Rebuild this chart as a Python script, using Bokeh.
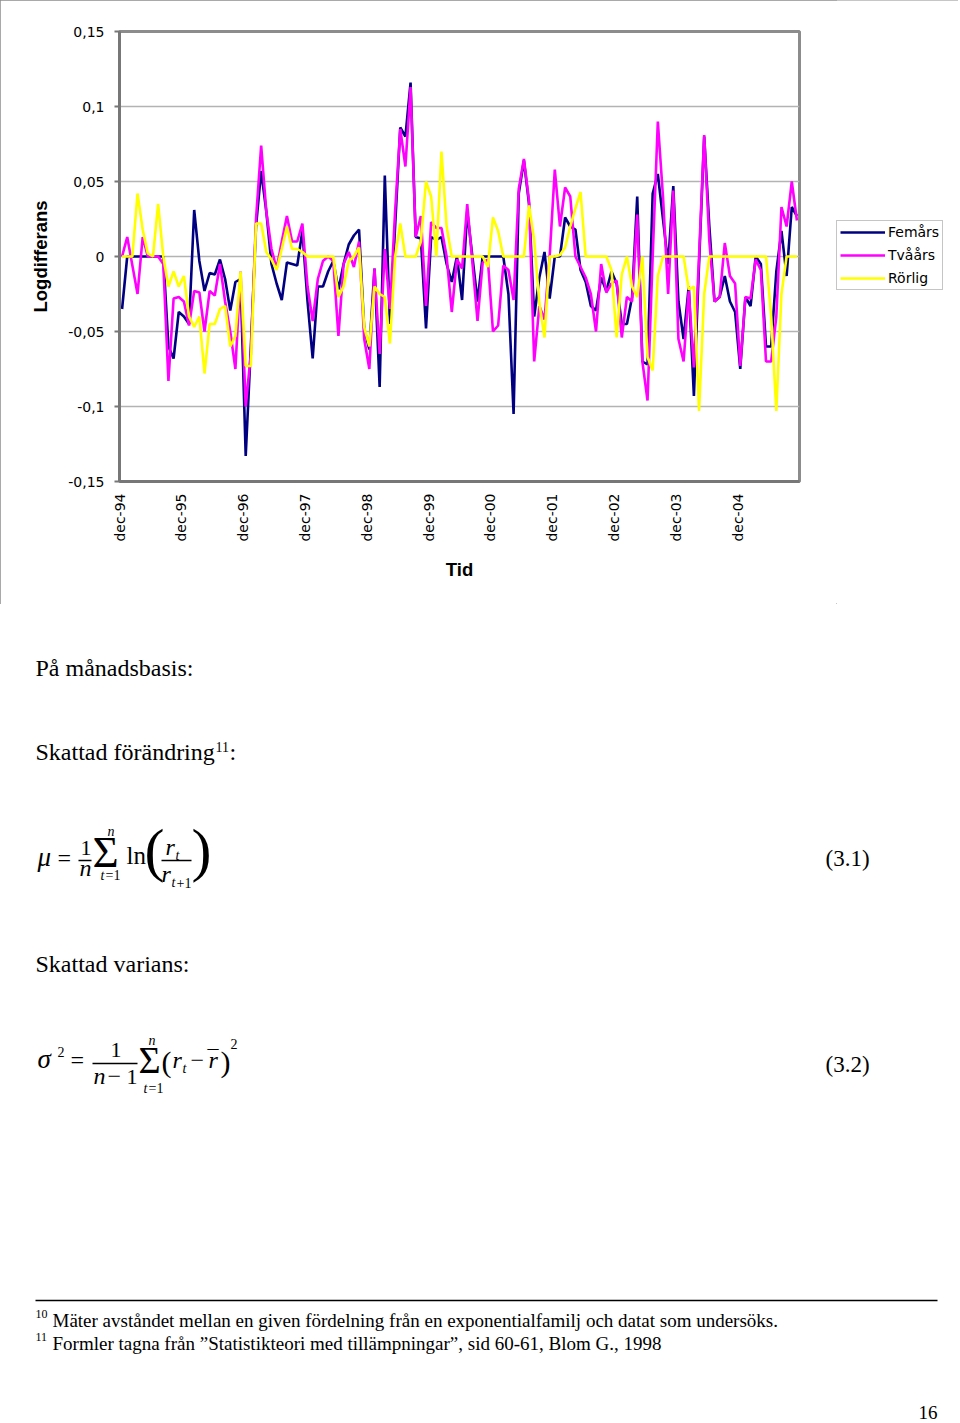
import math
from bokeh.plotting import figure
from bokeh.models import (Range1d, FixedTicker, Legend, LegendItem, Label,
                          CustomJSTickFormatter, InlineStyleSheet)
from bokeh.layouts import column, row
from bokeh.embed import file_html
from bokeh.resources import INLINE

# ---------------- data (monthly log differences, dec-94 ...) ----------------
femars = [
    -0.035, 0.0, 0.0, 0.0, 0.0, 0.0, 0.0, 0.0, 0.0, -0.060, -0.068, -0.037,
    -0.040, -0.045, 0.031, -0.003, -0.023, -0.011, -0.012, -0.002, -0.015, -0.036, -0.017, -0.015,
    -0.133, -0.060, 0.020, 0.057, 0.030, -0.005, -0.018, -0.029, -0.004, -0.005, -0.006, 0.017,
    -0.030, -0.068, -0.020, -0.020, -0.010, -0.003, -0.022, -0.005, 0.008, 0.014, 0.018, -0.048,
    -0.062, -0.008, -0.087, 0.054, -0.045, 0.020, 0.086, 0.080, 0.116, 0.013, 0.012, -0.048,
    0.013, 0.011, 0.013, -0.005, -0.017, 0.0, -0.029, 0.030, 0.0, -0.030, 0.0, 0.0,
    0.0, 0.0, 0.0, -0.025, -0.105, 0.042, 0.064, 0.035, -0.040, -0.014, 0.003, -0.028,
    0.0, 0.0, 0.026, 0.020, 0.018, -0.009, -0.017, -0.033, -0.036, -0.014, -0.023, -0.010,
    -0.018, -0.045, -0.045, -0.027, 0.040, -0.070, -0.072, 0.042, 0.055, 0.025, -0.005, 0.047,
    -0.030, -0.055, -0.020, -0.093, -0.005, 0.080, 0.020, -0.030, -0.027, -0.013, -0.030, -0.037,
    -0.075, -0.027, -0.033, 0.0, -0.005, -0.060, -0.060, -0.010, 0.017, -0.013, 0.033, 0.027,
]

tvaars = [
    0.0, 0.013, -0.006, -0.025, 0.013, 0.0, 0.0, 0.0, -0.005, -0.083, -0.028, -0.027,
    -0.030, -0.046, -0.023, -0.024, -0.050, -0.023, -0.026, -0.005, -0.030, -0.050, -0.075, -0.010,
    -0.100, -0.065, 0.025, 0.074, 0.030, 0.005, -0.008, 0.010, 0.027, 0.010, 0.010, 0.022,
    -0.020, -0.043, -0.015, -0.003, 0.0, -0.003, -0.053, -0.005, 0.003, -0.007, 0.010, -0.055,
    -0.075, -0.008, -0.065, 0.005, -0.035, 0.030, 0.085, 0.060, 0.113, 0.013, 0.027, -0.033,
    0.023, 0.019, 0.019, 0.0, -0.037, -0.002, -0.008, 0.035, -0.004, -0.043, -0.004, -0.002,
    -0.050, -0.046, -0.006, -0.009, -0.029, 0.045, 0.065, 0.037, -0.070, -0.033, -0.042, 0.0,
    0.058, 0.020, 0.046, 0.040, 0.0, -0.007, -0.014, -0.025, -0.050, -0.005, -0.024, -0.018,
    -0.016, -0.054, -0.027, -0.030, 0.028, -0.070, -0.096, 0.000, 0.090, 0.040, -0.025, 0.044,
    -0.055, -0.070, -0.023, -0.074, 0.000, 0.081, 0.010, -0.030, -0.027, 0.009, -0.013, -0.018,
    -0.073, -0.027, -0.028, -0.002, -0.009, -0.070, -0.070, -0.040, 0.033, 0.020, 0.050, 0.024,
]

rorlig = [
    0.0, 0.0, 0.0, 0.042, 0.018, 0.002, 0.0, 0.035, 0.0, -0.020, -0.010, -0.020,
    -0.013, -0.040, -0.047, -0.040, -0.078, -0.045, -0.045, -0.035, -0.033, -0.060, -0.053, -0.010,
    -0.073, -0.073, 0.022, 0.022, 0.003, -0.002, -0.009, 0.005, 0.020, 0.005, 0.005, 0.003,
    0.0, 0.0, 0.0, 0.0, 0.0, 0.0, -0.027, -0.020, -0.003, 0.0, 0.006, -0.047,
    -0.060, -0.020, -0.025, -0.027, -0.058, 0.0, 0.022, 0.0, 0.0, 0.0, 0.010, 0.050,
    0.040, 0.0, 0.070, 0.020, 0.0, 0.0, 0.0, 0.0, 0.0, 0.0, 0.0, -0.007,
    0.026, 0.017, 0.0, 0.0, 0.0, 0.0, 0.0, 0.034, 0.011, -0.031, -0.054, 0.0,
    0.0, 0.001, 0.006, 0.020, 0.032, 0.043, 0.0, 0.0, 0.0, 0.0, 0.0, -0.009,
    -0.054, -0.012, 0.0, -0.020, -0.027, 0.0, -0.067, -0.076, -0.013, 0.0, 0.0, 0.0,
    0.0, 0.0, -0.022, -0.020, -0.103, -0.025, 0.0, 0.0, 0.0, 0.0, 0.0, 0.0,
    0.0, 0.0, 0.0, 0.0, 0.0, 0.0, -0.040, -0.103, -0.025, 0.0, 0.0, 0.0,
]

series_names = ["Femårs", "Tvåårs", "Rörlig"]
series_colors = ["#000080", "#ff00ff", "#ffff00"]
x_tick_labels = ["dec-94", "dec-95", "dec-96", "dec-97", "dec-98", "dec-99",
                 "dec-00", "dec-01", "dec-02", "dec-03", "dec-04"]
y_ticks = [-0.15, -0.1, -0.05, 0.0, 0.05, 0.1, 0.15]
y_tick_labels = ["-0,15", "-0,1", "-0,05", "0", "0,05", "0,1", "0,15"]

month_index = list(range(len(femars)))
x_ticks = [12 * k - 0.5 for k in range(len(x_tick_labels))]
all_series = [femars, tvaars, rorlig]

# ---------------- chart ----------------
p = figure(width=836, height=604,
           x_range=Range1d(-0.5, len(femars) - 0.5),
           y_range=Range1d(y_ticks[0], y_ticks[-1]),
           output_backend="svg", toolbar_location=None,
           min_border_left=119, min_border_right=37,
           min_border_top=31, min_border_bottom=123)
p.background_fill_color = "white"
p.border_fill_color = "white"
p.outline_line_color = "#8c8c8c"
p.outline_line_width = 3

tick_fmt_js = """
for (let i = 0; i < ticks_arr.length; i++) {
  if (Math.abs(ticks_arr[i] - tick) < 1e-9) { return labels[i]; }
}
return "";
"""

p.xgrid.grid_line_color = None
p.ygrid.ticker = FixedTicker(ticks=y_ticks)
p.ygrid.grid_line_color = "#b3b3b3"
p.ygrid.grid_line_width = 1.5

yax = p.yaxis[0]
yax.ticker = FixedTicker(ticks=y_ticks)
yax.formatter = CustomJSTickFormatter(args=dict(ticks_arr=y_ticks, labels=y_tick_labels), code=tick_fmt_js)
yax.axis_label = "Logdifferans"
yax.axis_label_text_font = "Liberation Sans"
yax.axis_label_text_font_style = "bold"
yax.axis_label_text_font_size = "18.5px"
yax.axis_label_text_color = "black"
yax.axis_label_standoff = 14
yax.major_label_text_font = "DejaVu Sans"
yax.major_label_text_font_size = "14px"
yax.major_label_text_color = "black"
yax.major_label_standoff = 10
yax.major_tick_out = 5
yax.major_tick_in = 0
yax.major_tick_line_color = "#777777"
yax.major_tick_line_width = 2
yax.minor_tick_line_color = None
yax.axis_line_color = "#777777"
yax.axis_line_width = 3

xax = p.xaxis[0]
xax.ticker = FixedTicker(ticks=x_ticks)
xax.formatter = CustomJSTickFormatter(args=dict(ticks_arr=x_ticks, labels=x_tick_labels), code=tick_fmt_js)
xax.major_label_orientation = math.pi / 2
xax.axis_label = "Tid"
xax.axis_label_text_font = "Liberation Sans"
xax.axis_label_text_font_style = "bold"
xax.axis_label_text_font_size = "18.5px"
xax.axis_label_text_color = "black"
xax.axis_label_standoff = 14
xax.major_label_text_font = "DejaVu Sans"
xax.major_label_text_font_size = "14px"
xax.major_label_text_color = "black"
xax.major_label_standoff = 6
xax.major_tick_line_color = None
xax.minor_tick_line_color = None
xax.axis_line_color = "#777777"
xax.axis_line_width = 3

for vals, col in zip(all_series, series_colors):
    p.line(month_index, vals, line_color=col, line_width=2.6)

# ---------------- legend panel (right part of the chart box) ----------------
# same series drawn in a panel whose x-range lies outside the data, so only the legend shows
lf = figure(width=122, height=604, x_range=Range1d(1000, 1001), y_range=Range1d(0, 1),
            output_backend="svg", toolbar_location=None, min_border=0,
            x_axis_type=None, y_axis_type=None)
lf.outline_line_color = None
lf.background_fill_color = "white"
lf.border_fill_color = "white"
items = []
for name, vals, col in zip(series_names, all_series, series_colors):
    rr = lf.line(month_index, vals, line_color=col, line_width=2.6)
    items.append(LegendItem(label=name, renderers=[rr]))
legend = Legend(items=items, location=(0, 314))
legend.border_line_color = "#8c8c8c"
legend.border_line_width = 1
legend.background_fill_color = "white"
legend.background_fill_alpha = 1
legend.label_text_font = "DejaVu Sans"
legend.label_text_font_size = "14px"
legend.label_text_color = "black"
legend.glyph_width = 45
legend.glyph_height = 16
legend.label_height = 16
legend.spacing = 7
legend.padding = 3
legend.label_standoff = 3
legend.margin = 0
lf.add_layout(legend)

# ---------------- text part of the page ----------------
q = figure(width=960, height=819, x_range=Range1d(0, 960), y_range=Range1d(1423, 604),
           output_backend="svg", toolbar_location=None, min_border=0,
           x_axis_type=None, y_axis_type=None)
q.outline_line_color = None
q.background_fill_color = "white"
q.border_fill_color = "white"
for fig in (p, lf, q):
    try:
        fig.frame_align = False
    except Exception:
        pass


def txt(s, x, y, size, font="Liberation Serif", style="normal", align="left"):
    # y is the wanted baseline; the renderer places text about 0.35 em lower
    q.add_layout(Label(x=x, y=y - 0.35 * size, text=s, text_font=font,
                       text_font_size=f"{size}px", text_font_style=style,
                       text_align=align, text_baseline="alphabetic",
                       text_color="black"))


txt("På månadsbasis:", 35, 676, 24)
txt("Skattad förändring", 35, 760, 24)
txt("11", 215, 751, 14)
txt(":", 229, 760, 24)

# formula (3.1)
txt("μ", 37, 866, 27, style="italic")
txt("=", 57, 866, 24)
txt("1", 80, 855, 22)
txt("n", 79, 876, 24, style="italic")
txt("Σ", 92, 867, 45)
txt("n", 107, 836, 14, style="italic")
txt("t", 100, 880, 14, style="italic")
txt("=1", 105, 880, 14)
txt("ln", 126, 864, 25)
txt("(", 144, 870, 60)
txt("r", 165, 855, 24, style="italic")
txt("t", 175, 860, 14, style="italic")
txt("r", 161, 882, 24, style="italic")
txt("t", 171, 887, 14, style="italic")
txt("+1", 176, 887, 14)
txt(")", 191, 870, 60)
txt("(3.1)", 825, 866, 23)

txt("Skattad varians:", 35, 972, 24)

# formula (3.2)
txt("σ", 37, 1068, 27, style="italic")
txt("2", 57, 1056, 14)
txt("=", 70, 1068, 24)
txt("1", 110, 1057, 22)
txt("n", 93, 1084, 24, style="italic")
txt("−", 107, 1084, 24)
txt("1", 126, 1084, 22)
txt("Σ", 138, 1073, 38)
txt("n", 148, 1045, 14, style="italic")
txt("t", 143, 1093, 14, style="italic")
txt("=1", 148, 1093, 14)
txt("(", 161, 1071, 30)
txt("r", 172, 1068, 24, style="italic")
txt("t", 182, 1073, 14, style="italic")
txt("−", 190, 1068, 24)
txt("r", 208, 1068, 24, style="italic")
txt("¯", 207, 1065, 22)
txt(")", 220, 1071, 30)
txt("2", 230, 1048, 14)
txt("(3.2)", 825, 1072, 23)

# fraction bars and footnote rule
q.segment(x0=[78, 161, 92, 35], y0=[860, 860, 1063, 1300],
          x1=[91, 191, 137, 937], y1=[860, 860, 1063, 1300],
          line_color="black", line_width=1.3)

# footnotes
txt("10", 35, 1318, 12)
txt("Mäter avståndet mellan en given fördelning från en exponentialfamilj och datat som undersöks.", 52, 1327, 19)
txt("11", 35, 1341, 12)
txt("Formler tagna från ”Statistikteori med tillämpningar”, sid 60-61, Blom G., 1998", 52, 1350, 19)
txt("16", 937, 1419, 19, align="right")

box_css = InlineStyleSheet(css=":host { outline: 1px solid #8c8c8c; outline-offset: -1px; }")
chart_box = row(p, lf, spacing=0, stylesheets=[box_css])
layout = column(chart_box, q, spacing=0)
open("out.html", "w").write(file_html(layout, INLINE))
